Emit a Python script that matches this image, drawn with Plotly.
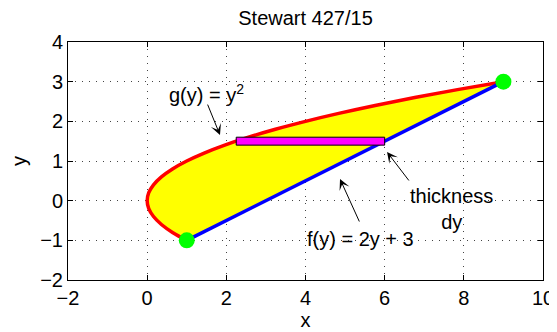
import plotly.graph_objects as go

# g(y) = y^2 sampled points (x = g(y))
g_y = [-1.0, -0.8, -0.6, -0.4, -0.2, 0.0, 0.2, 0.4, 0.6, 0.8, 1.0, 1.2, 1.4, 1.6, 1.8, 2.0, 2.2, 2.4, 2.6, 2.8, 3.0]
g_x = [1.0, 0.64, 0.36, 0.16, 0.04, 0.0, 0.04, 0.16, 0.36, 0.64, 1.0, 1.44, 1.96, 2.56, 3.24, 4.0, 4.84, 5.76, 6.76, 7.84, 9.0]
# f(y) = 2y + 3 endpoints
f_y = [-1.0, 3.0]
f_x = [1.0, 9.0]
# intersection points
pts_x = [1.0, 9.0]
pts_y = [-1.0, 3.0]
# strip
strip_x = [2.25, 6.0]
strip_y = [1.4, 1.6]

FONT = "Liberation Sans, Arial, sans-serif"
FS = 20

fig = go.Figure()
fig.add_trace(go.Scatter(
    x=g_x + f_x[::-1], y=g_y + f_y[::-1], mode="none", fill="toself",
    fillcolor="#ffff00", hoverinfo="skip", showlegend=False))
fig.add_trace(go.Scatter(x=g_x, y=g_y, mode="lines", line=dict(color="#ff0000", width=3.5, shape="spline"),
                         showlegend=False))
fig.add_trace(go.Scatter(x=f_x, y=f_y, mode="lines", line=dict(color="#0000ff", width=3.5),
                         showlegend=False))
fig.add_shape(type="rect", xref="x", yref="y", x0=strip_x[0], x1=strip_x[1], y0=strip_y[0], y1=strip_y[1],
              fillcolor="#ff00ff", line=dict(color="black", width=1))
fig.add_trace(go.Scatter(x=pts_x, y=pts_y, mode="markers", marker=dict(color="#00ff00", size=16, line=dict(width=0)),
                         showlegend=False))

arrows = [
    (1.84, 1.656, 1.512, 2.46),
    (6.06, 1.227, 6.64, 0.471),
    (4.872, 0.546, 5.377, -0.563),
]
for hx, hy, tx, ty in arrows:
    fig.add_annotation(x=hx, y=hy, ax=tx, ay=ty, xref="x", yref="y", axref="x", ayref="y",
                       text="", showarrow=True, arrowhead=3, arrowsize=1.8, arrowwidth=1, arrowcolor="black")

labels = [
    (1.51, 2.71, "g(y) = y<sup>2</sup>"),
    (7.70, -0.22, "thickness<br>dy"),
    (5.38, -0.97, "f(y) = 2y + 3"),
]
for lx, ly, t in labels:
    fig.add_annotation(x=lx, y=ly, xref="x", yref="y", text=t, showarrow=False,
                       font=dict(family=FONT, size=FS, color="black"), align="center")

axis_common = dict(
    showline=True, linecolor="black", linewidth=1, mirror="ticks",
    ticks="inside", ticklen=5, tickcolor="black",
    showgrid=True, gridcolor="#444444", gridwidth=1, griddash="1px,6px",
    zeroline=False, tickfont=dict(family=FONT, size=FS, color="black"),
    automargin=False,
)
fig.update_xaxes(range=[-2, 10], tickvals=[-2, 0, 2, 4, 6, 8, 10],
                 ticktext=["\u22122", "0", "2", "4", "6", "8", "10"],
                 title=dict(text="x", font=dict(family=FONT, size=FS, color="black"), standoff=3),
                 **axis_common)
fig.update_yaxes(range=[-2, 4], tickvals=[-2, -1, 0, 1, 2, 3, 4],
                 ticktext=["\u22122", "\u22121", "0", "1", "2", "3", "4"],
                 title=dict(text="y", font=dict(family=FONT, size=FS, color="black"), standoff=12),
                 **axis_common)

# page body has an 8px default margin; the figure is sized to fit the window
fig.update_layout(
    width=549, height=324,
    margin=dict(l=60, r=14, t=34, b=52),
    paper_bgcolor="white", plot_bgcolor="white",
    title=dict(text="Stewart 427/15", xref="paper", x=0.5, xanchor="center",
               yref="container", y=1 - 10 / 324, yanchor="middle",
               font=dict(family=FONT, size=FS, color="black")),
    showlegend=False,
)

fig.write_html("out.html")
